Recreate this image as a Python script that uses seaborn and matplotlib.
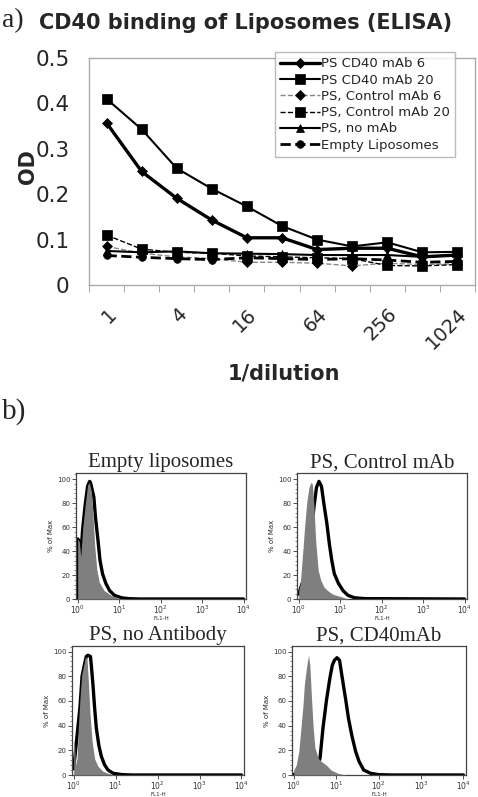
import matplotlib
matplotlib.use("Agg")
import matplotlib.pyplot as plt
import matplotlib.transforms as mtransforms
import seaborn as sns
import numpy as np
from matplotlib.ticker import FixedLocator, LogLocator, MultipleLocator, NullFormatter

# ---- panel a: ELISA data ----
dilutions = ["1", "2", "4", "8", "16", "32", "64", "128", "256", "512", "1024"]
cd40_mab6 = [0.357, 0.250, 0.191, 0.143, 0.104, 0.104, 0.078, 0.081, 0.081, 0.062, 0.066]
cd40_mab20 = [0.410, 0.343, 0.257, 0.212, 0.173, 0.130, 0.100, 0.085, 0.094, 0.072, 0.073]
ctrl_mab6 = [0.085, 0.070, 0.062, 0.058, 0.050, 0.050, 0.048, 0.042, 0.048, 0.045, 0.047]
ctrl_mab20 = [0.110, 0.079, 0.072, 0.070, 0.064, 0.062, 0.060, 0.058, 0.043, 0.042, 0.045]
no_mab = [0.075, 0.072, 0.074, 0.070, 0.069, 0.068, 0.066, 0.066, 0.066, 0.062, 0.066]
empty_lipo = [0.065, 0.061, 0.058, 0.056, 0.060, 0.058, 0.056, 0.058, 0.055, 0.050, 0.052]

# ---- panel b: flow histograms (x in decades of FL1-H, y in % of max) ----
empty_gray_x = [0.0, 0.04, 0.075, 0.12, 0.18, 0.24, 0.28, 0.33, 0.37, 0.41, 0.46, 0.52, 0.64, 0.81, 1.0, 1.2, 4.0]
empty_gray_y = [50, 48, 35, 58, 78, 95, 97, 90, 70, 45, 25, 14, 7, 3, 0.5, 0, 0]
empty_line_x = [0.0, 0.005, 0.04, 0.075, 0.12, 0.18, 0.24, 0.29, 0.31, 0.39, 0.43, 0.49, 0.54, 0.6, 0.68, 0.77, 0.89, 1.06, 1.22, 1.5, 4.0]
empty_line_y = [0, 50, 48, 35, 58, 78, 94, 98, 97, 85, 68, 49, 32, 21, 13, 7, 3, 1, 0.3, 0, 0]

ctrl_gray_x = [0.0, 0.04, 0.1, 0.15, 0.2, 0.25, 0.29, 0.33, 0.37, 0.41, 0.47, 0.53, 0.61, 0.7, 0.82, 1.02, 1.19, 4.0]
ctrl_gray_y = [7, 13, 40, 63, 82, 93, 97, 96, 77, 49, 24, 16, 10, 7, 4, 2, 0, 0]
ctrl_line_x = [0.0, 0.16, 0.29, 0.37, 0.43, 0.49, 0.55, 0.61, 0.68, 0.74, 0.8, 0.86, 0.96, 1.07, 1.19, 1.35, 1.6, 4.0]
ctrl_line_y = [4, 21, 49, 77, 93, 98, 94, 79, 63, 46, 32, 21, 13, 7, 3, 1, 0.3, 0]

noab_gray_x = [0.0, 0.02, 0.04, 0.08, 0.11, 0.15, 0.19, 0.24, 0.28, 0.32, 0.35, 0.39, 0.44, 0.5, 0.58, 0.7, 0.82, 0.98, 4.0]
noab_gray_y = [27, 27, 8, 13, 38, 62, 81, 89, 96, 93, 76, 49, 27, 13, 7, 3, 1.4, 0, 0]
noab_line_x = [0.0, 0.15, 0.2, 0.26, 0.3, 0.34, 0.4, 0.42, 0.46, 0.5, 0.54, 0.6, 0.66, 0.74, 0.82, 0.94, 1.15, 1.4, 4.0]
noab_line_y = [5, 55, 80, 90, 96, 97, 96, 89, 73, 54, 38, 24, 15, 8, 4, 1.4, 0.3, 0, 0]

cd40_gray_x = [0.0, 0.06, 0.12, 0.17, 0.22, 0.25, 0.31, 0.35, 0.38, 0.42, 0.46, 0.5, 0.58, 0.65, 0.77, 0.88, 1.04, 1.23, 4.0]
cd40_gray_y = [4, 8, 19, 38, 57, 73, 89, 97, 89, 62, 38, 22, 13.5, 11, 8, 4, 1.4, 0, 0]
cd40_line_x = [0.0, 0.45, 0.58, 0.62, 0.69, 0.77, 0.85, 0.91, 0.96, 1.02, 1.08, 1.12, 1.17, 1.23, 1.29, 1.37, 1.46, 1.54, 1.65, 1.81, 2.0, 2.3, 4.0]
cd40_line_y = [0.5, 3, 10, 13.5, 38, 60, 78, 89, 93, 95, 93, 84, 73, 60, 46, 32, 19, 11, 4, 1.4, 0.3, 0, 0]

hist_titles = ["Empty liposomes", "PS, Control mAb", "PS, no Antibody", "PS, CD40mAb"]

sns.set_style("white")
plt.rcParams['font.family'] = ['DejaVu Sans']

fig = plt.figure(figsize=(4.78, 7.97), dpi=100)
W, H = 478.0, 797.0


def px_axes(left, top, right, bottom):
    return fig.add_axes([left / W, 1 - bottom / H, (right - left) / W, (bottom - top) / H])


# ---------------- panel a ----------------
ax = px_axes(89, 58, 475, 285)
pos = np.arange(len(dilutions))
series = [
    ("PS CD40 mAb 6", cd40_mab6, dict(color="black", lw=2.4, ls="-", marker="D", ms=5)),
    ("PS CD40 mAb 20", cd40_mab20, dict(color="black", lw=1.5, ls="-", marker="s", ms=7)),
    ("PS, Control mAb 6", ctrl_mab6, dict(color="#888888", lw=1.0, ls="--", marker="D", ms=5)),
    ("PS, Control mAb 20", ctrl_mab20, dict(color="black", lw=1.0, ls="--", marker="s", ms=7)),
    ("PS, no mAb", no_mab, dict(color="black", lw=1.5, ls="-", marker="^", ms=6)),
    ("Empty Liposomes", empty_lipo, dict(color="black", lw=2.0, ls="--", marker="o", ms=5.5)),
]
for name, vals, st in series:
    sns.lineplot(x=pos, y=vals, ax=ax, label=name, color=st["color"], linewidth=st["lw"],
                 linestyle=st["ls"], marker=st["marker"], markersize=st["ms"],
                 markeredgecolor="black", markerfacecolor="black", markeredgewidth=0.5)

ax.set_xlim(-0.5, 10.5)
ax.set_ylim(0, 0.5)
ax.set_yticks([0, 0.1, 0.2, 0.3, 0.4, 0.5])
ax.set_yticklabels(["0", "0.1", "0.2", "0.3", "0.4", "0.5"], fontsize=15.5)
ax.set_xticks(pos[::2])
ax.set_xticklabels(dilutions[::2], fontsize=14, rotation=45, ha="right", va="top",
                   rotation_mode="anchor")
shift = mtransforms.ScaledTranslation(-9 / 100, -2 / 100, fig.dpi_scale_trans)
for lab in ax.get_xticklabels():
    lab.set_transform(lab.get_transform() + shift)
ax.xaxis.set_minor_locator(FixedLocator(np.arange(-0.5, 11, 1.0)))
ax.tick_params(axis="x", which="major", length=0, pad=14)
ax.tick_params(axis="x", which="minor", length=5, color="#999999", direction="out", bottom=True)
ax.tick_params(axis="y", length=0, pad=14)
for sp in ax.spines.values():
    sp.set_color("#aaaaaa")
    sp.set_linewidth(1.0)
ax.set_xlabel("1/dilution", fontsize=15, fontweight="bold")
ax.set_ylabel("OD", fontsize=15, fontweight="bold")
ax.yaxis.set_label_coords(-0.132, 0.52)
ax.xaxis.set_label_coords(0.505, -0.345)

leg = ax.legend(loc="upper left", bbox_to_anchor=(275 / W, 1 - 52 / H), bbox_transform=fig.transFigure,
                borderaxespad=0, fontsize=9.5, handlelength=3.0, handletextpad=0.1,
                labelspacing=0.25, frameon=True, fancybox=False, borderpad=0.4)
leg.get_frame().set_edgecolor("#aaaaaa")
leg.get_frame().set_linewidth(1.0)

fig.text(2 / W, 1 - 21 / H, "a)", family="Liberation Serif", fontsize=20, va="center", ha="left")
fig.text(246 / W, 1 - 23 / H, "CD40 binding of Liposomes (ELISA)", fontsize=15,
         fontweight="bold", va="center", ha="center")
fig.text(2 / W, 1 - 412 / H, "b)", family="Liberation Serif", fontsize=21, va="center", ha="left")

# ---------------- panel b ----------------
boxes = [(76, 473, 246, 599, 105), (297, 473, 467, 599, 105),
         (72, 646, 244, 775, 104.5), (292, 646, 466, 775, 104.5)]
curves = [(empty_gray_x, empty_gray_y, empty_line_x, empty_line_y),
          (ctrl_gray_x, ctrl_gray_y, ctrl_line_x, ctrl_line_y),
          (noab_gray_x, noab_gray_y, noab_line_x, noab_line_y),
          (cd40_gray_x, cd40_gray_y, cd40_line_x, cd40_line_y)]

for (l, t, r, b, ytop), (gx, gy, lx, ly), title in zip(boxes, curves, hist_titles):
    hx = px_axes(l, t, r, b)
    sns.lineplot(x=10 ** np.array(lx), y=ly, ax=hx, color="black", linewidth=2.4,
                 sort=False, estimator=None, zorder=2)
    hx.fill_between(10 ** np.array(gx), gy, 0, color="#7f7f7f", lw=0, zorder=3)
    hx.set_xscale("log")
    hx.set_xlim(10 ** -0.04, 10 ** 4.06)
    hx.set_ylim(0, ytop)
    hx.set_xticks([1, 10, 100, 1000, 10000])
    hx.set_xticklabels([r"$10^0$", r"$10^1$", r"$10^2$", r"$10^3$", r"$10^4$"], fontsize=5.5)
    hx.xaxis.set_minor_locator(LogLocator(base=10, subs=np.arange(2, 10)))
    hx.xaxis.set_minor_formatter(NullFormatter())
    hx.set_yticks([0, 20, 40, 60, 80, 100])
    hx.set_yticklabels(["0", "20", "40", "60", "80", "100"], fontsize=5)
    hx.yaxis.set_minor_locator(MultipleLocator(4))
    hx.tick_params(which="major", length=3, width=0.6, pad=1.0, colors="#333333", direction="out",
                   left=True, bottom=True)
    hx.tick_params(axis="x", which="major", pad=0.5)
    hx.tick_params(which="minor", length=1.5, width=0.4, color="#333333", direction="out",
                   left=True, bottom=True)
    for sp in hx.spines.values():
        sp.set_color("#444444")
        sp.set_linewidth(0.9)
    hx.set_xlabel("FL1-H", fontsize=4, labelpad=0)
    hx.set_ylabel("% of Max", fontsize=5, labelpad=2)
    hx.set_title(title, family="Liberation Serif", fontsize=15, pad=4)

plt.savefig("out.png", dpi=100)
plt.close()
